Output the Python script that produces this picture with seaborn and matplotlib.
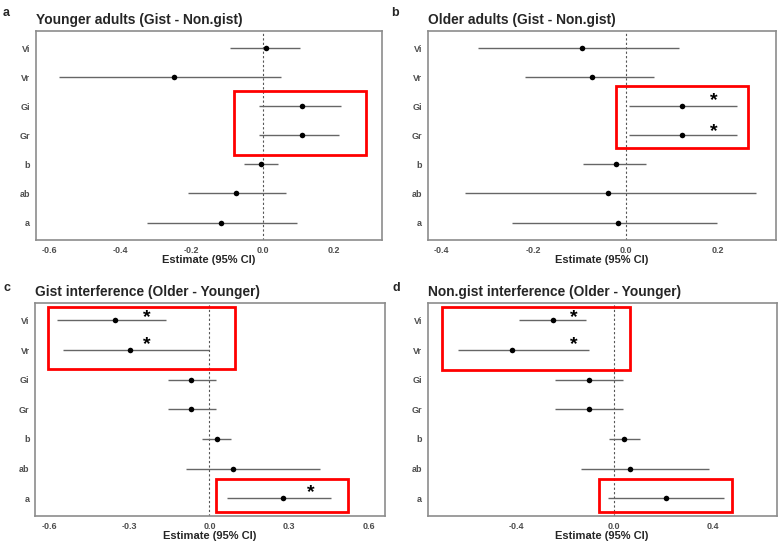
import numpy as np
import pandas as pd
import matplotlib
matplotlib.use('Agg')
import matplotlib.pyplot as plt
from matplotlib.patches import Rectangle
import seaborn as sns

sns.set_style('white')
plt.rcParams['font.family'] = ['Liberation Sans', 'DejaVu Sans']

# categories, bottom to top
cats = ['a', 'ab', 'b', 'Gr', 'Gi', 'Vr', 'Vi']

# panel a: Younger adults (Gist - Non.gist)
est_a = [-0.116, -0.075, -0.004, 0.110, 0.110, -0.250, 0.009]
lo_a = [-0.326, -0.211, -0.051, -0.011, -0.011, -0.572, -0.091]
hi_a = [0.096, 0.067, 0.044, 0.216, 0.220, 0.053, 0.105]

# panel b: Older adults (Gist - Non.gist)
est_b = [-0.016, -0.039, -0.022, 0.123, 0.123, -0.072, -0.094]
lo_b = [-0.246, -0.349, -0.093, 0.008, 0.008, -0.218, -0.321]
hi_b = [0.197, 0.282, 0.043, 0.241, 0.241, 0.061, 0.116]

# panel c: Gist interference (Older - Younger)
est_c = [0.276, 0.089, 0.028, -0.070, -0.070, -0.297, -0.354]
lo_c = [0.065, -0.089, -0.028, -0.157, -0.157, -0.552, -0.572]
hi_c = [0.459, 0.416, 0.083, 0.025, 0.025, -0.003, -0.164]

# panel d: Non.gist interference (Older - Younger)
est_d = [0.212, 0.062, 0.041, -0.103, -0.103, -0.417, -0.248]
lo_d = [-0.026, -0.136, -0.020, -0.243, -0.243, -0.637, -0.390]
hi_d = [0.445, 0.387, 0.106, 0.037, 0.037, -0.102, -0.114]

titles = ['Younger adults (Gist - Non.gist)', 'Older adults (Gist - Non.gist)',
          'Gist interference (Older - Younger)', 'Non.gist interference (Older - Younger)']
letters = ['a', 'b', 'c', 'd']

xticks = [[-0.6, -0.4, -0.2, 0.0, 0.2], [-0.4, -0.2, 0.0, 0.2],
          [-0.6, -0.3, 0.0, 0.3, 0.6], [-0.4, 0.0, 0.4]]
xlims = [(-0.638, 0.335), (-0.429, 0.325), (-0.656, 0.661), (-0.760, 0.661)]

# highlight boxes (x0, x1, y0, y1) in data units
boxes = [
    [(-0.081, 0.291, 2.34, 4.52)],
    [(-0.020, 0.266, 2.56, 4.69)],
    [(-0.606, 0.098, 4.35, 6.47), (0.023, 0.523, -0.47, 0.65)],
    [(-0.700, 0.062, 4.33, 6.47), (-0.062, 0.478, -0.47, 0.64)],
]
# significance stars (x, y)
stars = [
    [],
    [(0.19, 4.2), (0.19, 3.14)],
    [(-0.235, 6.1), (-0.235, 5.2), (0.382, 0.18)],
    [(-0.166, 6.1), (-0.166, 5.2)],
]

panels = [(est_a, lo_a, hi_a), (est_b, lo_b, hi_b), (est_c, lo_c, hi_c), (est_d, lo_d, hi_d)]

# axes positions in figure fractions
positions = [
    [0.0459, 0.5572, 0.4447, 0.3862],
    [0.5497, 0.5572, 0.4473, 0.3862],
    [0.0450, 0.0480, 0.4500, 0.3935],
    [0.5497, 0.0480, 0.4486, 0.3935],
]
letter_pos = [(0.004, 0.987), (0.503, 0.987), (0.004, 0.48), (0.504, 0.48)]

fig = plt.figure(figsize=(7.78, 5.42), dpi=100)

for i, (est, lo, hi) in enumerate(panels):
    ax = fig.add_axes(positions[i])
    df = pd.DataFrame({'term': cats, 'est': est, 'lo': lo, 'hi': hi})
    df['pos'] = np.arange(len(cats))

    ax.axvline(0, color='#555555', linestyle=(0, (2, 2)), linewidth=0.8, zorder=1)
    ax.hlines(df['pos'], df['lo'], df['hi'], color='#666666', linewidth=1.0, zorder=2)
    sns.scatterplot(data=df, x='est', y='pos', ax=ax, color='black', s=16,
                    edgecolor='black', linewidth=0, zorder=3)

    for (x0, x1, y0, y1) in boxes[i]:
        ax.add_patch(Rectangle((x0, y0), x1 - x0, y1 - y0, fill=False,
                               edgecolor='#ff0000', linewidth=2.0, zorder=4))
    for (sx, sy) in stars[i]:
        ax.text(sx, sy, '*', ha='center', va='center', fontsize=14,
                fontweight='bold', color='black', zorder=5)

    ax.set_xlim(xlims[i])
    ax.set_ylim(-0.6, 6.6)
    ax.set_yticks(df['pos'])
    ax.set_yticklabels(cats)
    ax.set_xticks(xticks[i])
    ax.set_xticklabels([f'{t:.1f}' for t in xticks[i]])
    ax.tick_params(axis='both', length=2.5, width=0.8, color='#4d4d4d',
                   labelsize=6.5, labelcolor='#4d4d4d', pad=1.5)
    for lab in ax.get_xticklabels() + ax.get_yticklabels():
        lab.set_fontweight('bold')
    ax.set_xlabel('Estimate (95% CI)', fontsize=8, fontweight='bold', labelpad=0)
    ax.set_ylabel('')
    for sp in ax.spines.values():
        sp.set_color('#8c8c8c')
        sp.set_linewidth(1.2)
    ax.set_title(titles[i], loc='left', fontsize=9.9, fontweight='bold', pad=5)
    fig.text(letter_pos[i][0], letter_pos[i][1], letters[i], fontsize=9,
             fontweight='bold', va='top', ha='left')

fig.savefig('out.png', dpi=100)
